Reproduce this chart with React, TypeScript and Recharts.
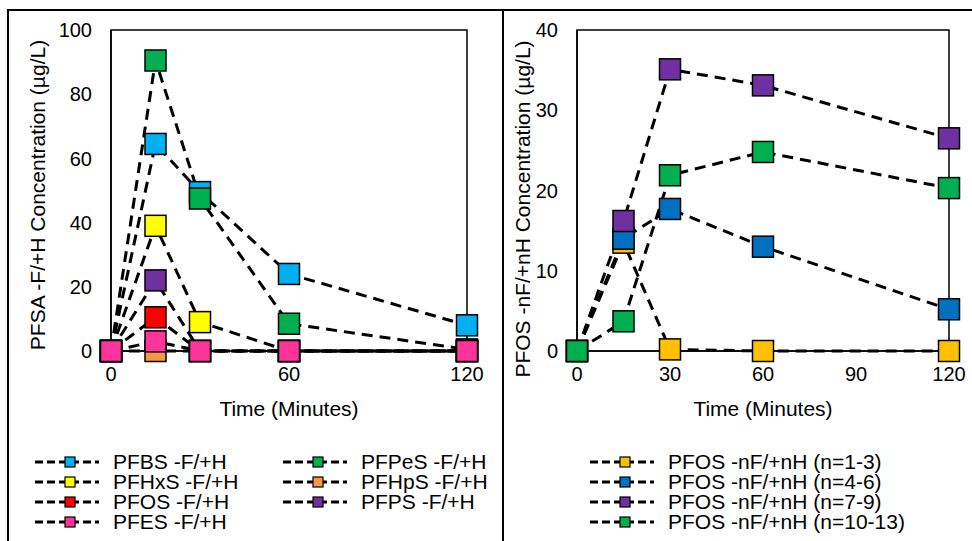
import React from "react";
import { LineChart, Line, XAxis, YAxis, ReferenceArea, Legend } from "recharts";

const times = [0, 15, 30, 60, 120];

const leftNames = ["PFBS -F/+H", "PFPeS -F/+H", "PFHxS -F/+H", "PFHpS -F/+H", "PFOS -F/+H", "PFPS -F/+H", "PFES -F/+H"];
const leftColors = ["#00B0F0", "#00B050", "#FFFF00", "#F79646", "#FF0000", "#7030A0", "#FF3399"];
const pfbs = [0, 64.5, 49.5, 24, 8];
const pfpes = [0, 90.5, 47.5, 8.5, 0.5];
const pfhxs = [0, 39, 9, 0, 0];
const pfhps = [0, 0, 0, 0, 0];
const pfos = [0, 10.5, 0, 0, 0];
const pfps = [0, 22, 0, 0, 0];
const pfes = [0, 3, 0, 0, 0];
const leftSeries = [pfbs, pfpes, pfhxs, pfhps, pfos, pfps, pfes];

const rightNames = ["PFOS -nF/+nH (n=1-3)", "PFOS -nF/+nH (n=4-6)", "PFOS -nF/+nH (n=7-9)", "PFOS -nF/+nH (n=10-13)"];
const rightColors = ["#FFC000", "#0070C0", "#7030A0", "#00B050"];
const n1to3 = [0, 13.5, 0.2, 0, 0];
const n4to6 = [0, 14, 17.7, 13, 5.2];
const n7to9 = [0, 16.2, 35.1, 33.1, 26.5];
const n10to13 = [0, 3.7, 21.9, 24.8, 20.3];
const rightSeries = [n1to3, n4to6, n7to9, n10to13];

const leftXTicks = [0, 60, 120];
const leftYTicks = [0, 20, 40, 60, 80, 100];
const rightXTicks = [0, 30, 60, 90, 120];
const rightYTicks = [0, 10, 20, 30, 40];

const FONT = '"Liberation Sans", Arial, sans-serif';

function buildRows(series: number[][]) {
  return times.map((t, i) => {
    const row: any = { t };
    series.forEach((s, k) => {
      row["s" + k] = s[i];
    });
    return row;
  });
}

const leftData = buildRows(leftSeries);
const rightData = buildRows(rightSeries);

function makeDot(fill: string) {
  return (props: any) => {
    const { cx, cy, index } = props;
    if (cx == null || cy == null) return <g key={index} />;
    const s = 21;
    return (
      <rect key={index} x={cx - s / 2} y={cy - s / 2} width={s} height={s} fill={fill} stroke="#000" strokeWidth={1.5} />
    );
  };
}

function LegendItem({ name, color }: { name: string; color: string }) {
  return (
    <div style={{ display: "flex", alignItems: "center", height: 20, lineHeight: "20px", whiteSpace: "nowrap" }}>
      <svg width={70} height={20} style={{ flex: "none" }}>
        <line x1={0} y1={10} x2={64} y2={10} stroke="#000" strokeWidth={3} strokeDasharray="8 4" />
        <rect x={30} y={5} width={10} height={10} fill={color} stroke="#000" strokeWidth={1.2} />
      </svg>
      <span style={{ fontSize: 21, lineHeight: "20px", fontFamily: FONT, color: "#000", marginLeft: 8 }}>{name}</span>
    </div>
  );
}

function yTitle(text: string, cxOff: number, cy: number) {
  return (props: any) => {
    const vb = props.viewBox || {};
    const x = (vb.x || 0) + cxOff;
    return (
      <text x={x} y={cy} transform={`rotate(-90 ${x} ${cy})`} textAnchor="middle" dominantBaseline="central" fontSize={21} fontFamily={FONT} fill="#000">
        {text}
      </text>
    );
  };
}

function xTitle(text: string) {
  return (props: any) => {
    const vb = props.viewBox || {};
    const x = (vb.x || 0) + (vb.width || 0) / 2;
    const y = (vb.y || 0) + 57;
    return (
      <text x={x} y={y} textAnchor="middle" dominantBaseline="central" fontSize={21} fontFamily={FONT} fill="#000">
        {text}
      </text>
    );
  };
}

const tickStyle = { fontSize: 20, fontFamily: FONT, fill: "#000" };

function LeftLegend() {
  const col1 = [0, 2, 4, 6];
  const col2 = [1, 3, 5];
  return (
    <div style={{ display: "flex" }}>
      <div style={{ width: 248 }}>
        {col1.map((i) => (
          <LegendItem key={i} name={leftNames[i]} color={leftColors[i]} />
        ))}
      </div>
      <div>
        {col2.map((i) => (
          <LegendItem key={i} name={leftNames[i]} color={leftColors[i]} />
        ))}
      </div>
    </div>
  );
}

function RightLegend() {
  return (
    <div>
      {rightNames.map((n, i) => (
        <LegendItem key={i} name={n} color={rightColors[i]} />
      ))}
    </div>
  );
}

export default function App() {
  return (
    <div style={{ position: "relative", width: 972, height: 541, background: "#fff", overflow: "hidden" }}>
      <style>{`body{margin:0;}`}</style>
      <div style={{ position: "absolute", left: 7, top: 9, width: 980, height: 2, background: "#000" }} />
      <div style={{ position: "absolute", left: 7, top: 9, width: 2, height: 540, background: "#000" }} />
      <div style={{ position: "absolute", left: 502, top: 9, width: 2, height: 540, background: "#000" }} />

      <div style={{ position: "absolute", left: 0, top: 0 }}>
        <LineChart width={503} height={541} data={leftData} margin={{ top: 30, right: 36, bottom: 160, left: 51 }}>
          <XAxis
            dataKey="t"
            type="number"
            domain={[0, 120]}
            ticks={leftXTicks}
            tickLine={false}
            tickSize={0}
            tickMargin={16}
            height={30}
            axisLine={{ stroke: "#000", strokeWidth: 1.5 }}
            tick={tickStyle}
            label={xTitle("Time (Minutes)")}
          />
          <YAxis
            type="number"
            domain={[0, 100]}
            ticks={leftYTicks}
            tickLine={false}
            tickSize={0}
            tickMargin={19}
            width={60}
            axisLine={{ stroke: "#000", strokeWidth: 1.5 }}
            tick={tickStyle}
            label={yTitle("PFSA -F/+H Concentration (µg/L)", -14, 195)}
          />
          <ReferenceArea x1={0} x2={120} y1={0} y2={100} fill="none" stroke="#000" strokeWidth={1.5} />
          {leftSeries.map((_, k) => (
            <Line
              key={k}
              dataKey={"s" + k}
              name={leftNames[k]}
              type="linear"
              stroke="#000"
              strokeWidth={3}
              strokeDasharray="11 7"
              dot={makeDot(leftColors[k])}
              activeDot={false}
              isAnimationActive={false}
            />
          ))}
          <Legend
            layout="horizontal"
            verticalAlign="middle"
            align="center"
            content={() => <LeftLegend />}
            wrapperStyle={{ position: "absolute", left: 35, top: 452, width: 460 }}
          />
        </LineChart>
      </div>

      <div style={{ position: "absolute", left: 503, top: 0 }}>
        <LineChart width={469} height={541} data={rightData} margin={{ top: 30, right: 23, bottom: 160, left: 14 }}>
          <XAxis
            dataKey="t"
            type="number"
            domain={[0, 120]}
            ticks={rightXTicks}
            tickLine={false}
            tickSize={0}
            tickMargin={16}
            height={30}
            axisLine={{ stroke: "#000", strokeWidth: 1.5 }}
            tick={tickStyle}
            label={xTitle("Time (Minutes)")}
          />
          <YAxis
            type="number"
            domain={[0, 40]}
            ticks={rightYTicks}
            tickLine={false}
            tickSize={0}
            tickMargin={19}
            width={60}
            axisLine={{ stroke: "#000", strokeWidth: 1.5 }}
            tick={tickStyle}
            label={yTitle("PFOS -nF/+nH Concentration (µg/L)", 5.5, 209)}
          />
          <ReferenceArea x1={0} x2={120} y1={0} y2={40} fill="none" stroke="#000" strokeWidth={1.5} />
          {rightSeries.map((_, k) => (
            <Line
              key={k}
              dataKey={"s" + k}
              name={rightNames[k]}
              type="linear"
              stroke="#000"
              strokeWidth={3}
              strokeDasharray="11 7"
              dot={makeDot(rightColors[k])}
              activeDot={false}
              isAnimationActive={false}
            />
          ))}
          <Legend
            layout="horizontal"
            verticalAlign="middle"
            align="center"
            content={() => <RightLegend />}
            wrapperStyle={{ position: "absolute", left: 87, top: 452, width: 380 }}
          />
        </LineChart>
      </div>
    </div>
  );
}
